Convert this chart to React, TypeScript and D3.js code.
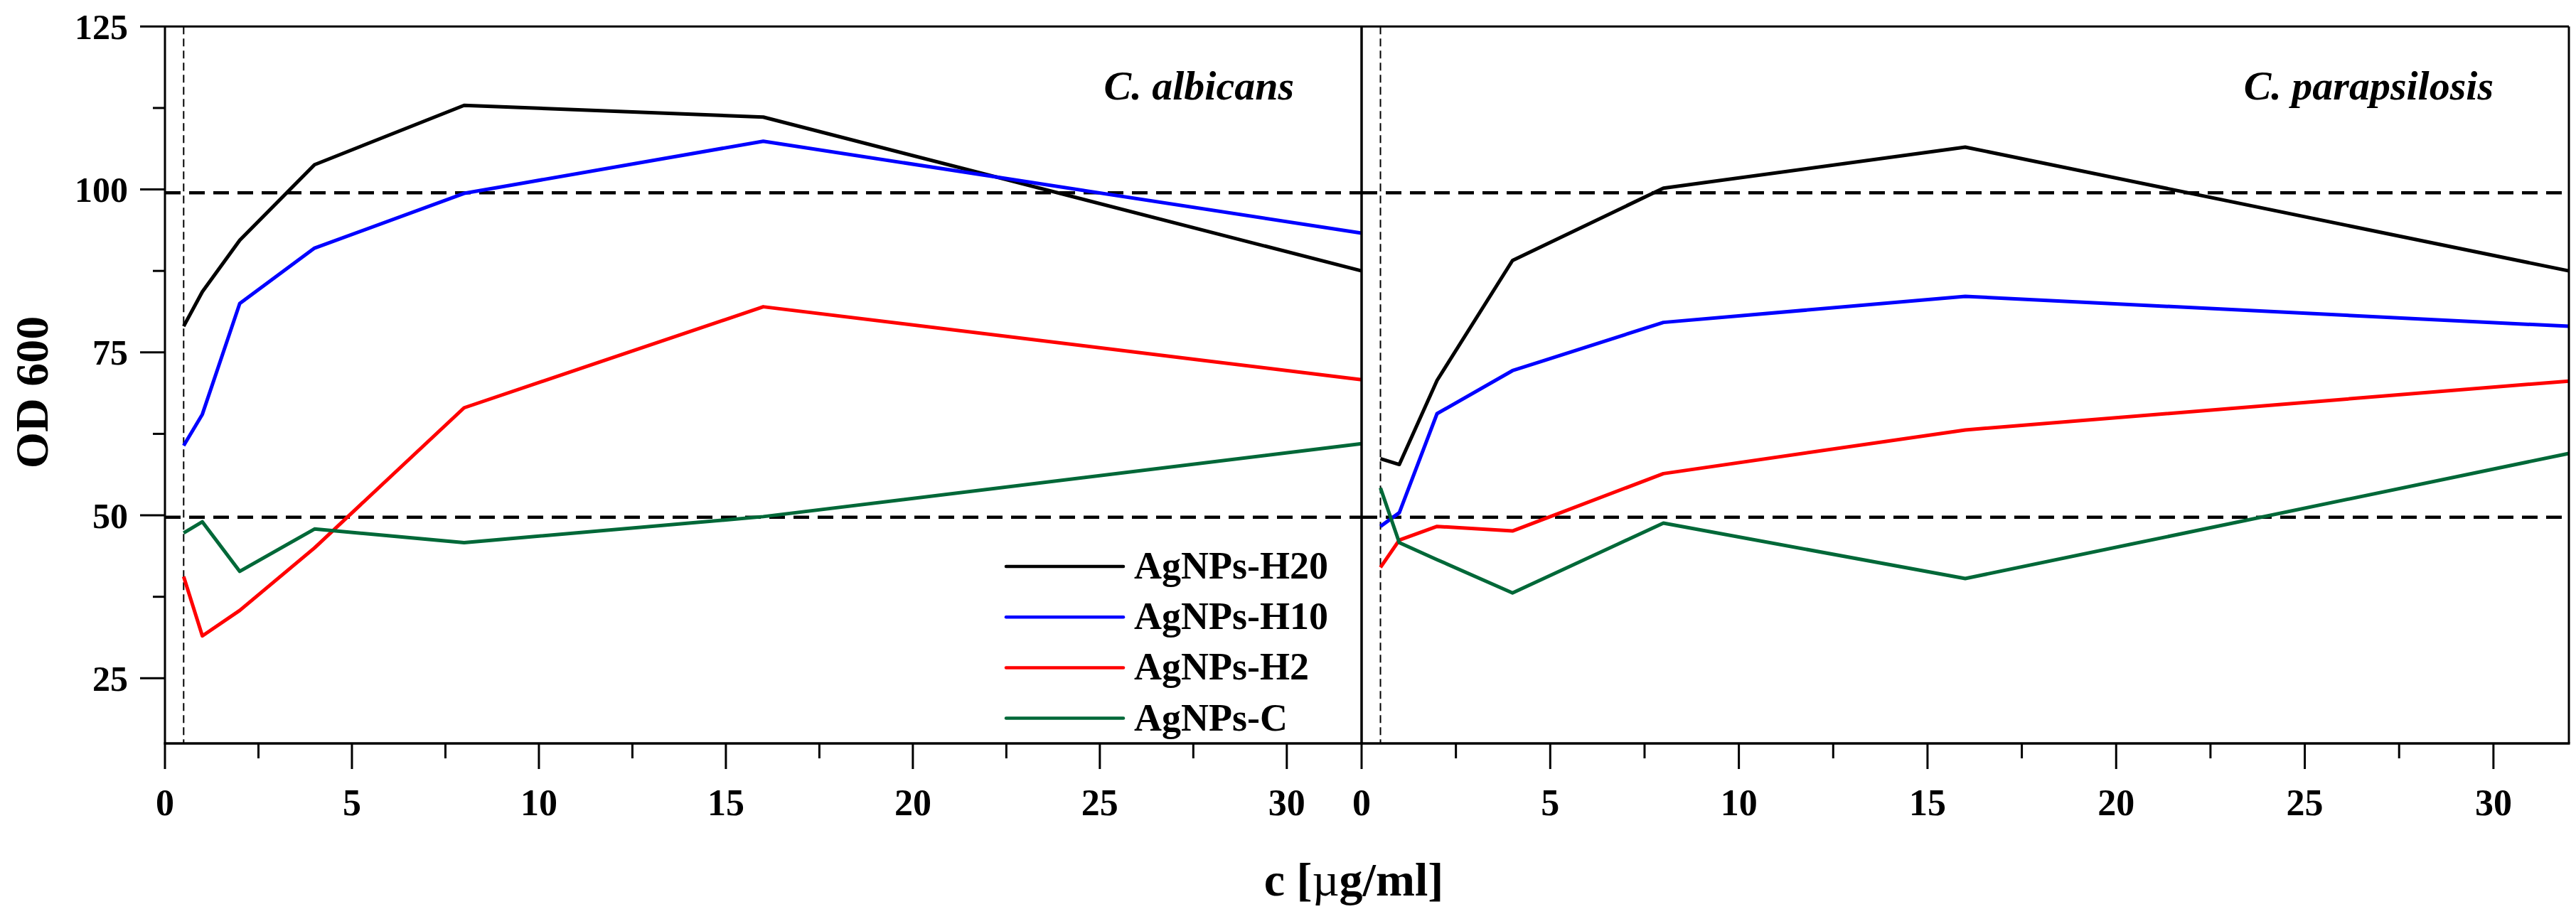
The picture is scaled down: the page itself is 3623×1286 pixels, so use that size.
import React from 'react';
import * as d3 from 'd3';

// ---- data ----
const concentrations = [0.5, 1, 2, 4, 8, 16, 32];
const seriesNames = ['AgNPs-H20', 'AgNPs-H10', 'AgNPs-H2', 'AgNPs-C'];
const seriesColors = ['#000000', '#0000ff', '#ff0000', '#006838'];

const albicansH20 = [79.0, 84.3, 92.2, 103.8, 112.9, 111.1, 87.5];
const albicansH10 = [60.7, 65.5, 82.5, 91.0, 99.4, 107.4, 93.3];
const albicansH2 = [40.6, 31.5, 35.4, 45.0, 66.5, 82.0, 70.8];
const albicansC = [47.3, 49.0, 41.4, 47.9, 45.8, 49.8, 61.0];

const parapsilosisH20 = [58.7, 57.8, 70.7, 89.1, 100.2, 106.5, 87.5];
const parapsilosisH10 = [48.3, 50.4, 65.6, 72.2, 79.6, 83.6, 79.0];
const parapsilosisH2 = [42.0, 46.2, 48.3, 47.6, 56.4, 63.1, 70.6];
const parapsilosisC = [54.2, 45.8, 43.2, 38.1, 48.8, 40.3, 59.5];

const panelTitles = ['C. albicans', 'C. parapsilosis'];
const panelSeries = [
  [albicansH20, albicansH10, albicansH2, albicansC],
  [parapsilosisH20, parapsilosisH10, parapsilosisH2, parapsilosisC],
];

const yTicks = [25, 50, 75, 100, 125];
const yMinorTicks = [37.5, 62.5, 87.5, 112.5];
const xTicks = [0, 5, 10, 15, 20, 25, 30];
const xMinorTicks = [2.5, 7.5, 12.5, 17.5, 22.5, 27.5];
const refLevels = [99.5, 49.7];
const refConcentration = 0.5;

const yLabel = 'OD 600';
const xLabelPre = 'c [';
const xLabelMu = 'µ';
const xLabelPost = 'g/ml]';

// ---- layout ----
const W = 3623;
const H = 1286;
const top = 37.3;
const bottom = 1046;
const panelRanges: [number, number][] = [
  [232, 1915],
  [1915, 3613],
];
const FONT = '"Liberation Serif", "Times New Roman", serif';

const y = d3.scaleLinear().domain([15, 125]).range([bottom, top]);

export default function App() {
  const xScales = panelRanges.map((r) => d3.scaleLinear().domain([0, 32]).range(r));

  return (
    <svg
      width={W}
      height={H}
      viewBox={`0 0 ${W} ${H}`}
      style={{ position: 'absolute', left: 0, top: 0, display: 'block', background: '#fff' }}
      fontFamily={FONT}
    >
      <rect x={0} y={0} width={W} height={H} fill="#fff" />
      {xScales.map((x, pi) => {
        const line = d3
          .line<number>()
          .x((_, i) => x(concentrations[i]))
          .y((d) => y(d));
        const [x0, x1] = x.range();
        return (
          <g key={pi}>
            {/* reference lines */}
            {refLevels.map((lv) => (
              <line
                key={lv}
                x1={x0}
                x2={x1}
                y1={y(lv)}
                y2={y(lv)}
                stroke="#000"
                strokeWidth={4.5}
                strokeDasharray="22 12"
              />
            ))}
            <line
              x1={x(refConcentration)}
              x2={x(refConcentration)}
              y1={top}
              y2={bottom}
              stroke="#000"
              strokeWidth={2}
              strokeDasharray="11 6"
            />
            {/* series */}
            {panelSeries[pi].map((vals, si) => (
              <path
                key={si}
                d={line(vals) || ''}
                fill="none"
                stroke={seriesColors[si]}
                strokeWidth={5}
                strokeLinejoin="round"
              />
            ))}
            {/* frame */}
            <line x1={x0} x2={x1} y1={top} y2={top} stroke="#000" strokeWidth={3} />
            <line x1={x0} x2={x0} y1={top} y2={bottom} stroke="#000" strokeWidth={3} />
            <line x1={x1} x2={x1} y1={top} y2={bottom} stroke="#000" strokeWidth={3} />
            <line x1={x0 - 1.5} x2={x1 + 1.5} y1={bottom} y2={bottom} stroke="#000" strokeWidth={3.5} />
            {/* x ticks */}
            {xTicks.map((t) => (
              <g key={t}>
                <line x1={x(t)} x2={x(t)} y1={bottom} y2={bottom + 36} stroke="#000" strokeWidth={3} />
                <text
                  x={x(t)}
                  y={1147}
                  textAnchor="middle"
                  fontSize={52}
                  fontWeight="bold"
                >
                  {t}
                </text>
              </g>
            ))}
            {xMinorTicks.map((t) => (
              <line key={t} x1={x(t)} x2={x(t)} y1={bottom} y2={bottom + 21} stroke="#000" strokeWidth={3} />
            ))}
            {/* panel title */}
            <text
              x={pi === 0 ? 1820 : 3507}
              y={140}
              textAnchor="end"
              fontSize={58}
              fontWeight="bold"
              fontStyle="italic"
            >
              {panelTitles[pi]}
            </text>
          </g>
        );
      })}

      {/* y axis ticks */}
      {yTicks.map((t) => (
        <g key={t}>
          <line x1={197} x2={232} y1={y(t)} y2={y(t)} stroke="#000" strokeWidth={3} />
          <text x={180} y={y(t)} dy="0.35em" textAnchor="end" fontSize={50} fontWeight="bold">
            {t}
          </text>
        </g>
      ))}
      {yMinorTicks.map((t) => (
        <line key={t} x1={215} x2={232} y1={y(t)} y2={y(t)} stroke="#000" strokeWidth={3} />
      ))}

      {/* axis titles */}
      <text
        transform="translate(67,552) rotate(-90)"
        textAnchor="middle"
        fontSize={66}
        fontWeight="bold"
      >
        {yLabel}
      </text>
      <text x={1904} y={1260} textAnchor="middle" fontSize={66} fontWeight="bold">
        {xLabelPre}
        <tspan fontWeight="normal">{xLabelMu}</tspan>
        {xLabelPost}
      </text>

      {/* legend */}
      {seriesNames.map((name, i) => {
        const ly = 797 + i * 71.2;
        return (
          <g key={name}>
            <line x1={1415} x2={1580} y1={ly} y2={ly} stroke={seriesColors[i]} strokeWidth={4.5} strokeLinecap="round" />
            <text x={1595} y={ly + 17} fontSize={54} fontWeight="bold">
              {name}
            </text>
          </g>
        );
      })}
    </svg>
  );
}
